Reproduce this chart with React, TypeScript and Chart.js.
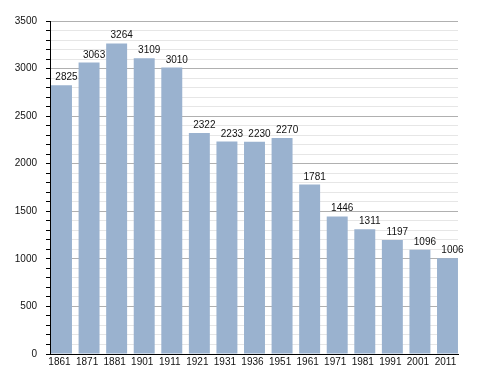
import React, { useEffect, useRef } from "react";
import { Chart, registerables } from "chart.js";

Chart.register(...registerables);

const years = ["1861", "1871", "1881", "1901", "1911", "1921", "1931", "1936", "1951", "1961", "1971", "1981", "1991", "2001", "2011"];
const population = [2825, 3063, 3264, 3109, 3010, 2322, 2233, 2230, 2270, 1781, 1446, 1311, 1197, 1096, 1006];
const yMax = 3500;
const yMinorStep = 100;
const yMajorStep = 500;

const FONT = "'Liberation Sans', Arial, sans-serif";

const valueLabels = {
  id: "valueLabels",
  afterDatasetsDraw(chart: any) {
    const ctx = chart.ctx;
    const meta = chart.getDatasetMeta(0);
    ctx.save();
    ctx.font = `10px ${FONT}`;
    ctx.fillStyle = "#111";
    ctx.textAlign = "center";
    ctx.textBaseline = "alphabetic";
    meta.data.forEach((bar: any, i: number) => {
      ctx.fillText(String(population[i]), bar.x + 5, bar.y - 5);
    });
    ctx.restore();
  },
};

export default function App() {
  const ref = useRef<HTMLCanvasElement>(null);
  useEffect(() => {
    if (!ref.current) return;
    const chart = new Chart(ref.current, {
      type: "bar",
      data: {
        datasets: [
          {
            data: population.map((v, i) => ({ x: i, y: v })),
            backgroundColor: "#9ab2cf",
            borderWidth: 0,
            barPercentage: 0.76,
            categoryPercentage: 1,
          },
        ],
      },
      options: {
        animation: false,
        responsive: false,
        maintainAspectRatio: false,
        layout: { padding: { left: 0, top: 21, right: 30, bottom: 0 } },
        plugins: { legend: { display: false }, tooltip: { enabled: false } },
        scales: {
          x: {
            type: "linear",
            offset: false,
            min: -0.417,
            max: 14.381,
            afterBuildTicks: (scale: any) => {
              scale.ticks = years.map((_, i) => ({ value: i }));
            },
            afterFit: (scale: any) => {
              scale.height = 19;
            },
            grid: { display: false, drawTicks: false },
            border: { display: true, color: "#000", width: 1 },
            ticks: {
              autoSkip: false,
              maxRotation: 0,
              padding: 2,
              labelOffset: -2,
              color: "#111",
              font: { family: FONT, size: 10 },
              callback: (v: any) => years[Math.round(Number(v))] ?? "",
            },
          },
          y: {
            type: "linear",
            min: 0,
            max: yMax,
            afterFit: (scale: any) => {
              scale.width = 50;
            },
            grid: {
              color: (c: any) =>
                c.tick && c.tick.value % yMajorStep === 0 ? "#b0b0b0" : "#e6e6e6",
              tickColor: "#000",
              tickLength: 4,
              lineWidth: 1,
            },
            border: { display: true, color: "#000", width: 1 },
            ticks: {
              stepSize: yMinorStep,
              autoSkip: false,
              padding: 9,
              color: "#111",
              font: { family: FONT, size: 10 },
              callback: (v: any) => (Number(v) % yMajorStep === 0 ? String(v) : ""),
            },
          },
        },
      },
      plugins: [valueLabels],
    });
    return () => chart.destroy();
  }, []);
  return (
    <div style={{ position: "fixed", left: 0, top: 0, width: 488, height: 373, background: "#fff" }}>
      <canvas ref={ref} width={488} height={373} style={{ width: 488, height: 373 }} />
    </div>
  );
}
